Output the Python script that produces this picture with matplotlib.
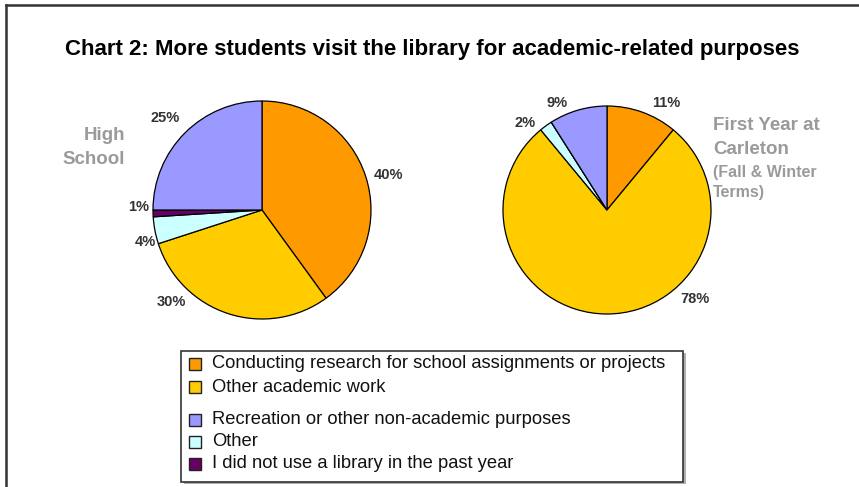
import matplotlib.pyplot as plt
from matplotlib.patches import Rectangle
from matplotlib.lines import Line2D

plt.rcParams['font.family'] = ['Liberation Sans', 'DejaVu Sans']

# ---------------- Data ----------------
categories = [
    "Conducting research for school assignments or projects",
    "Other academic work",
    "Recreation or other non-academic purposes",
    "Other",
    "I did not use a library in the past year",
]
colors = ["#FF9900", "#FFCC00", "#9999FF", "#CCFFFF", "#660066"]

# slice order around the pie (clockwise from 12 o'clock)
pie_order = [0, 1, 3, 4, 2]

high_school = [40, 30, 25, 4, 1]
first_year = [11, 78, 9, 2, 0]

# label spots (in pie radius units) for each slice, same order as pie_order
hs_label_xy = [(1.16, 0.32), (-0.83, -0.84), (-1.07, -0.29), (-1.13, 0.03), (-0.89, 0.84)]
fy_label_xy = [(0.57, 1.03), (0.85, -0.86), (-0.79, 0.84), None, (-0.48, 1.03)]

W, H = 859, 487
fig = plt.figure(figsize=(W / 100, H / 100), dpi=100)
fig.patch.set_facecolor('white')


def add_pie(cx, cy, r, values, label_xy):
    ax = fig.add_axes([(cx - r) / W, (H - cy - r) / H, 2 * r / W, 2 * r / H])
    vals = [values[i] for i in pie_order]
    cols = [colors[i] for i in pie_order]
    ax.pie(vals, colors=cols, startangle=90, counterclock=False,
           wedgeprops=dict(edgecolor='black', linewidth=0.9))
    for v, xy in zip(vals, label_xy):
        if xy is None:
            continue
        ax.text(xy[0], xy[1], f"{v}%", ha='center', va='center',
                fontsize=10.5, fontweight='bold', color='#333333')
    ax.set_xlim(-1, 1)
    ax.set_ylim(-1, 1)
    ax.set_aspect('auto')
    ax.axis('off')
    return ax


add_pie(262, 210, 109, high_school, hs_label_xy)
add_pie(607, 210, 104, first_year, fy_label_xy)

# title
fig.text(432 / W, 1 - 50 / H,
         "Chart 2: More students visit the library for academic-related purposes",
         ha='center', va='center', fontsize=16, fontweight='bold', color='black')

# pie captions
grey = '#9a9a9a'
fig.text(125 / W, 1 - 135 / H, "High", ha='right', va='center',
         fontsize=13.5, fontweight='bold', color=grey)
fig.text(125 / W, 1 - 160 / H, "School", ha='right', va='center',
         fontsize=13.5, fontweight='bold', color=grey)
fig.text(713 / W, 1 - 126 / H, "First Year at", ha='left', va='center',
         fontsize=13.5, fontweight='bold', color=grey)
fig.text(713 / W, 1 - 150 / H, "Carleton", ha='left', va='center',
         fontsize=13.5, fontweight='bold', color=grey)
fig.text(713 / W, 1 - 172 / H, "(Fall & Winter", ha='left', va='center',
         fontsize=11.5, fontweight='bold', color=grey)
fig.text(713 / W, 1 - 193 / H, "Terms)", ha='left', va='center',
         fontsize=11.5, fontweight='bold', color=grey)

# legend box with shadow
fig.patches.append(Rectangle((184 / W, 1 - 484 / H), 502 / W, 131 / H,
                             transform=fig.transFigure, facecolor='#b0b0b0',
                             edgecolor='none', zorder=1))
fig.patches.append(Rectangle((181 / W, 1 - 482 / H), 502 / W, 131 / H,
                             transform=fig.transFigure, facecolor='white',
                             edgecolor='#333333', linewidth=1.2, zorder=2))
row_y = [364, 387, 420, 442, 464]
for name, col, y in zip(categories, colors, row_y):
    fig.patches.append(Rectangle((189 / W, 1 - (y + 6) / H), 12 / W, 12 / H,
                                 transform=fig.transFigure, facecolor=col,
                                 edgecolor='#222222', linewidth=1.0, zorder=3))
    fig.text(212 / W, 1 - y / H, name, ha='left', va='center',
             fontsize=13.2, color='#111111', zorder=4)

# outer frame (left and top edges)
fig.add_artist(Line2D([6 / W, 6 / W], [0, 1 - 5 / H], transform=fig.transFigure,
                      color='#333333', linewidth=1.8))
fig.add_artist(Line2D([6 / W, 1], [1 - 5 / H, 1 - 5 / H], transform=fig.transFigure,
                      color='#333333', linewidth=1.8))

fig.savefig('out.png', dpi=100)
